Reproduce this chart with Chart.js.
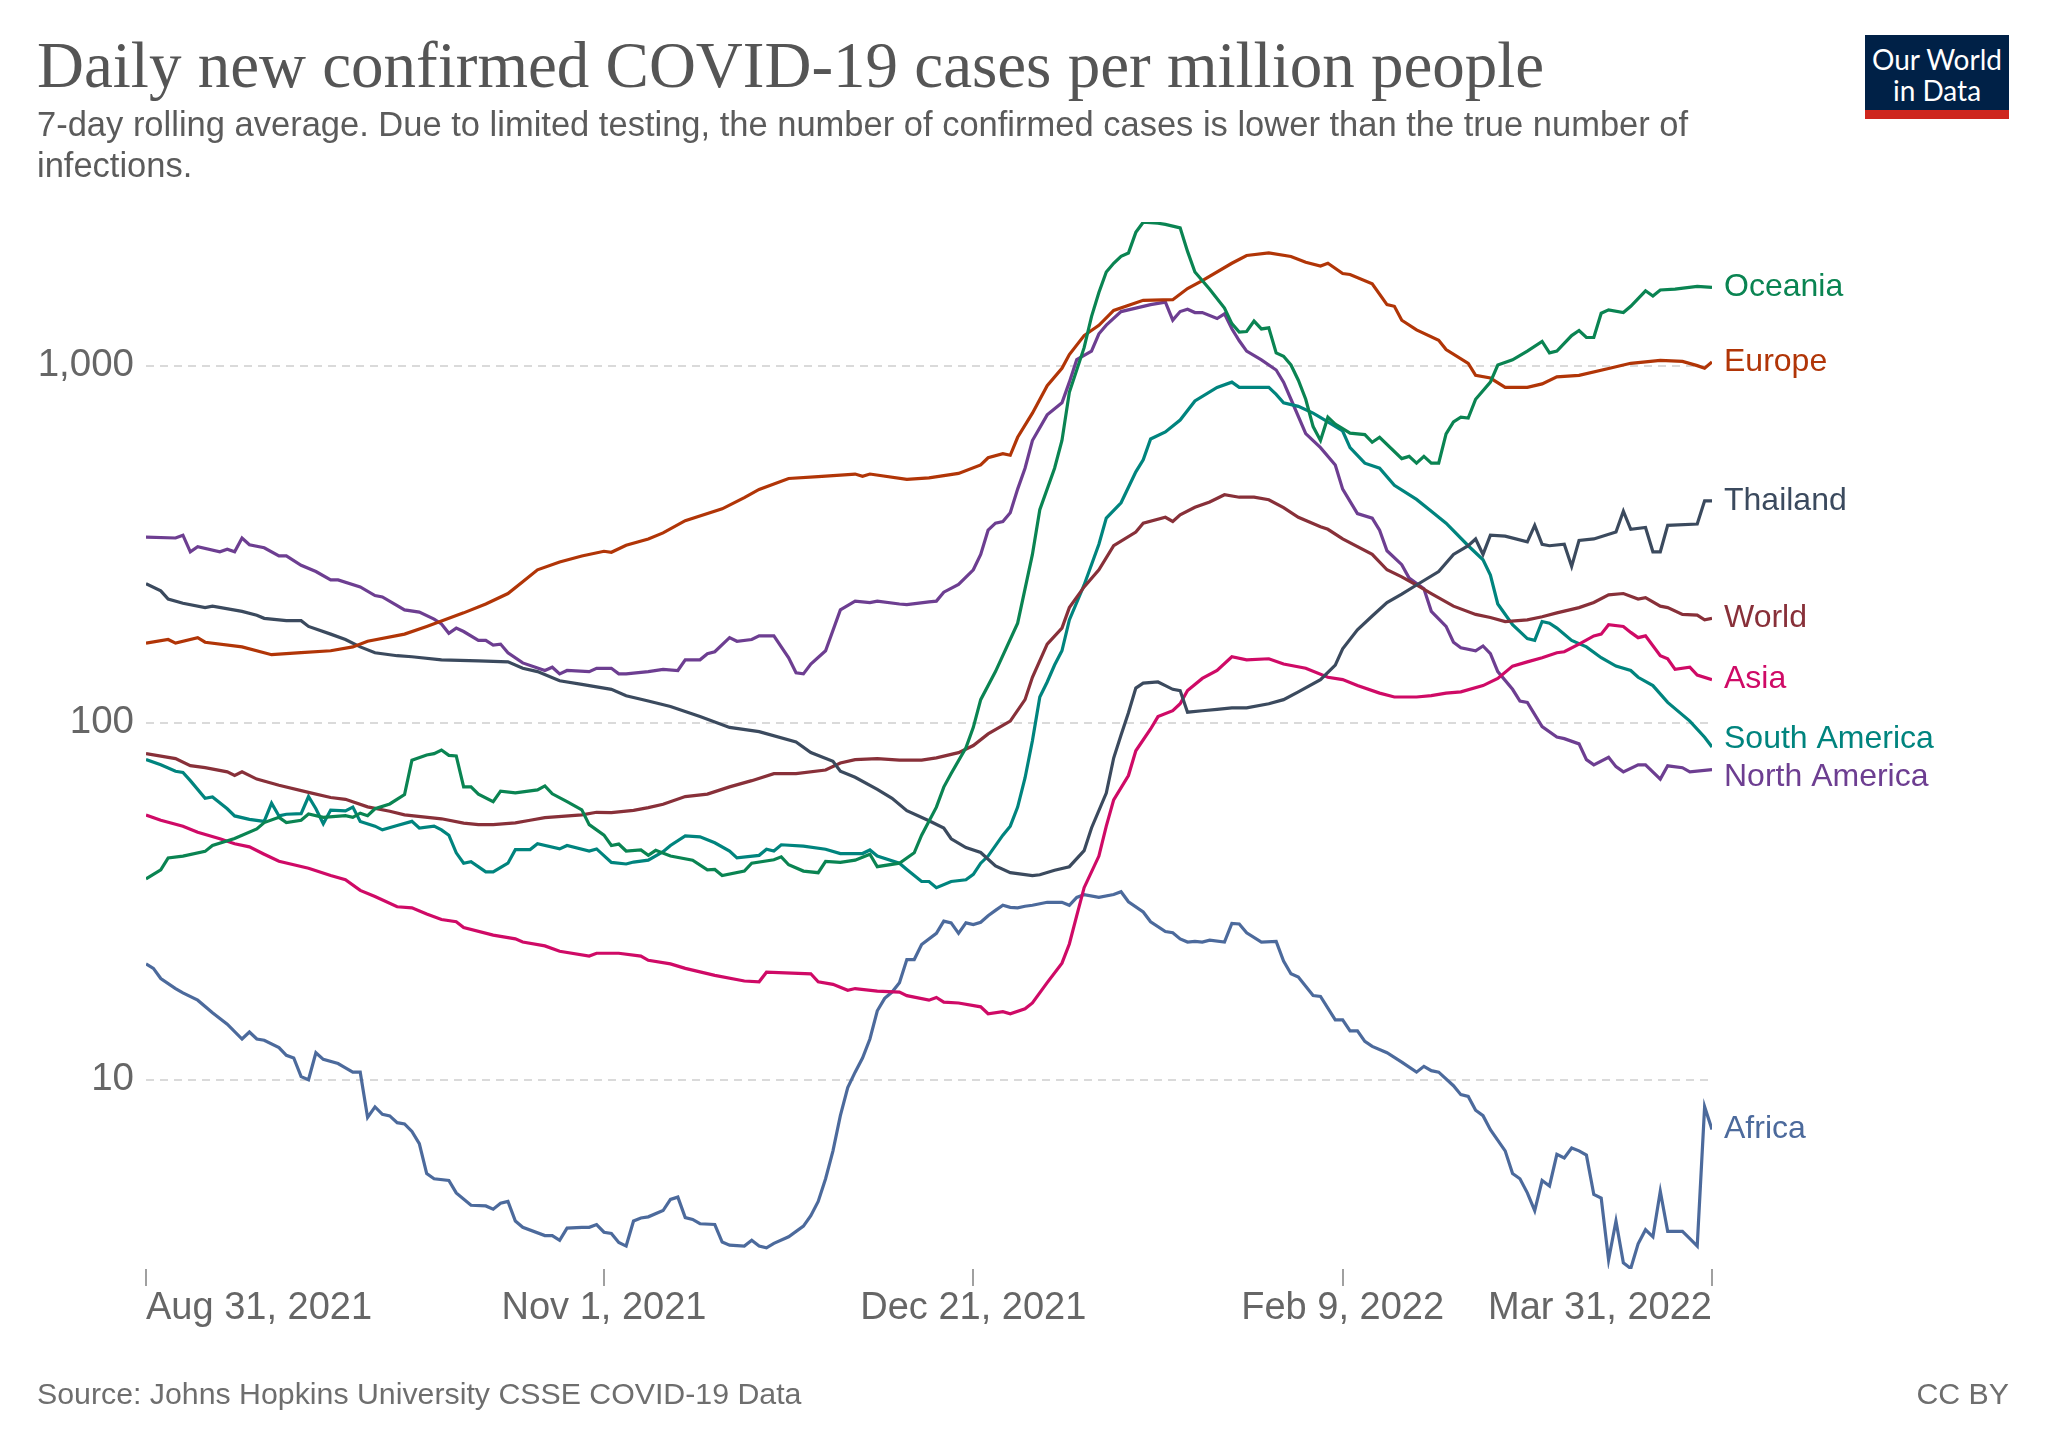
<!DOCTYPE html>
<html lang="en">
<head>
<meta charset="UTF-8">
<title>Daily new confirmed COVID-19 cases per million people</title>
<script src="https://cdn.jsdelivr.net/npm/chart.js"></script>
<style>
  body { margin: 0; background: #fff; width: 2048px; height: 1446px; position: relative; overflow: hidden; font-family: "Liberation Sans", Arial, sans-serif; }
  #title { position: absolute; left: 37px; top: 33px; font-family: "Liberation Serif", "Times New Roman", serif; font-size: 65px; line-height: 65px; color: #555; white-space: nowrap; }
  #subtitle { position: absolute; left: 37px; top: 104px; font-size: 34.5px; line-height: 40.5px; color: #5b5b5b; white-space: nowrap; }
  #logo { position: absolute; left: 1865px; top: 35px; width: 144px; height: 66px; background: #002147; border-bottom: 9px solid #ce261e; color: #fff; font-family: Lato, "Liberation Sans", sans-serif; font-size: 28px; line-height: 31px; text-align: center; padding-top: 9px; box-sizing: content-box; }
  #source { position: absolute; left: 37px; top: 1379px; font-size: 30.3px; line-height: 30px; color: #6e6e6e; }
  #licence { position: absolute; right: 39px; top: 1379px; font-size: 30.3px; line-height: 30px; color: #6e6e6e; }
  #myChart { position: absolute; left: 0; top: 0; }
</style>
</head>
<body>
<canvas id="myChart" width="2048" height="1446"></canvas>
<div id="title">Daily new confirmed COVID-19 cases per million people</div>
<div id="subtitle">7-day rolling average. Due to limited testing, the number of confirmed cases is lower than the true number of<br>infections.</div>
<div id="logo">Our World<br>in Data</div>
<div id="source">Source: Johns Hopkins University CSSE COVID-19 Data</div>
<div id="licence">CC BY</div>
<script>
// days counted from Aug 31, 2021 (day 0) to Mar 31, 2022 (day 212)
var tickDays = [0, 62, 112, 162, 212];
var tickLabels = ['Aug 31, 2021', 'Nov 1, 2021', 'Dec 21, 2021', 'Feb 9, 2022', 'Mar 31, 2022'];
var yTicks = [10, 100, 1000];
var yTickLabels = ['10', '100', '1,000'];

var oceaniaDays = [0,2,3,5,8,9,12,15,16,18,19,21,22,24,27,28,29,30,31,33,35,36,38,39,40,41,42,43,44,45,47,48,50,53,54,55,57,59,60,62,63,64,65,67,68,69,71,74,76,77,78,81,82,85,86,87,89,91,92,94,96,98,99,102,104,105,107,108,109,111,112,113,115,118,119,120,121,123,124,125,127,128,129,130,131,132,133,134,135,137,138,140,141,142,144,146,147,148,149,150,151,152,153,154,155,156,157,158,159,160,161,163,165,166,167,170,171,172,173,174,175,176,177,178,179,180,182,183,185,187,189,190,191,193,194,195,196,197,198,200,201,203,204,205,207,210,212];
var oceaniaVals = [36.5,38.7,41.8,42.3,43.6,45.3,47.4,50.4,52.5,54.3,52.5,53.3,55.5,54.3,54.9,54.3,55.8,54.9,57.4,59.2,62.9,78.5,81.2,81.9,83.8,81,80.7,66.1,66.1,63.1,60.1,64.3,63.6,64.8,66.5,63.2,60.1,57,51.8,48.4,45.3,45.7,43.7,44,42.5,43.9,42.3,41.2,38.7,38.8,37.3,38.4,40.4,41.3,42.1,40,38.4,38,40.9,40.6,41.2,42.8,39.5,40.4,43.2,48.4,58,66,72,85,97,116,139,190,237,296,395,516,617,842,1123,1372,1602,1829,1935,2024,2068,2362,2522,2505,2486,2431,2089,1829,1637,1449,1311,1241,1246,1333,1267,1276,1086,1062,1004,910,805,675,617,717,686,647,641,610,630,549,557,533,557,533,533,644,696,717,713,805,899,1004,1038,1098,1169,1086,1098,1214,1254,1199,1199,1402,1433,1408,1466,1620,1566,1629,1637,1667,1656];

var europeDays = [0,3,4,7,8,13,16,17,21,25,28,30,35,38,43,46,49,51,53,56,59,62,63,65,68,70,73,78,81,83,87,91,96,97,98,103,106,110,113,114,116,117,118,120,122,124,125,127,129,131,135,139,141,143,147,149,152,155,157,159,160,162,163,166,168,169,170,172,175,176,179,180,182,184,187,189,191,194,198,201,205,208,210,211,212];
var europeVals = [167,171,167,173,168,163,157,155,157,159,163,169,177,186,203,215,230,248,268,282,293,302,300,314,327,340,368,397,427,450,483,489,497,490,497,480,485,499,527,552,567,561,630,736,879,983,1074,1214,1297,1427,1524,1530,1644,1730,1935,2034,2068,2021,1947,1900,1935,1811,1800,1694,1482,1466,1340,1259,1178,1109,1015,939,923,869,869,889,930,939,982,1015,1035,1028,1000,983,1024];

var thailandDays = [0,2,3,5,8,9,13,15,16,19,21,22,25,27,29,31,34,36,40,45,49,51,53,56,59,63,65,68,71,75,79,83,88,90,93,94,96,99,101,103,106,108,109,111,113,115,117,120,121,123,125,127,128,130,131,132,133,134,135,137,138,139,140,141,143,145,147,149,152,154,156,159,161,162,164,166,168,170,172,175,177,179,180,181,182,184,187,188,189,190,192,193,194,196,199,200,201,203,204,205,206,210,211,212];
var thailandVals = [245,234,222,216,210,212,205,200,196,193,193,186,177,171,163,157,154,153,150,149,148,142,139,131,128,124,119,115,111,104,97,94.4,88.3,82.5,77.9,73.1,70.3,65,61.4,56.7,53.1,50.7,47.3,44.7,43.3,39.7,38,37.3,37.5,38.6,39.5,43.8,50.7,63.5,79.6,92.3,106.6,125,129,130,127,124,123,107,108,109,110,110,113,116,122,132,145,161,182,199,217,229,243,265,296,313,327,296,335,333,321,357,316,313,316,274,324,327,342,391,348,352,301,301,357,360,418,418];

var worldDays = [0,4,6,8,11,12,13,15,18,22,25,27,30,33,35,40,43,45,47,50,52,54,59,61,63,66,68,70,73,76,79,82,85,88,92,94,96,99,102,105,107,110,112,114,117,119,120,122,124,125,127,129,131,134,135,138,139,140,142,144,146,148,150,152,154,156,159,160,162,166,168,170,172,174,177,180,182,184,187,189,191,194,196,198,200,202,203,205,206,208,210,211,212];
var worldVals = [81.9,79.3,75.8,74.8,72.8,71.1,72.8,69.5,66.8,63.8,61.7,61,58.1,56.5,55.2,53.8,52.3,51.8,51.8,52.4,53.3,54.2,55.2,56.1,56,56.8,57.8,59.1,62.1,63.1,66.1,68.8,72,72,73.7,77.1,78.8,79.3,78.5,78.5,79.7,82.4,86.3,93,101,116,134,166,184,210,240,268,313,342,362,376,366,382,401,415,435,428,428,421,400,376,354,348,327,296,268,256,243,230,212,201,197,192,194,198,203,210,217,228,230,222,224,212,210,201,200,194,196];

var asiaDays = [0,2,5,7,10,12,14,16,18,22,25,27,29,31,34,36,38,40,42,43,47,50,51,54,56,60,61,64,67,68,71,73,77,81,83,84,90,91,93,95,96,99,102,103,106,107,108,110,113,114,116,117,119,120,122,124,125,126,127,129,130,131,133,134,136,137,139,140,141,143,145,147,149,152,154,157,160,162,164,167,169,172,174,176,178,181,183,185,187,189,191,192,194,196,197,198,200,201,202,203,205,206,207,209,210,212];
var asiaVals = [55.1,53.3,51.3,49.3,47.3,45.8,44.9,42.8,40.9,39.1,37.3,36.3,33.9,32.6,30.5,30.3,29.1,28.1,27.7,26.7,25.4,24.8,24.3,23.7,22.9,22.2,22.6,22.6,22.2,21.6,21.1,20.5,19.6,18.9,18.8,20,19.8,18.8,18.5,17.8,18,17.7,17.6,17.2,16.7,17,16.5,16.4,16,15.3,15.5,15.3,15.8,16.4,18.7,21.2,24,28.8,34.5,42.3,51.3,60.8,71.1,83.4,96,104,108,113,123,133,140,153,150,151,146,142,134,132,127,121,118,118,119,121,122,127,133,144,148,152,157,158,166,175,177,188,186,179,173,175,154,151,141,143,136,132];

var southAmericaDays = [0,2,4,5,6,8,9,11,12,14,16,17,18,19,21,22,23,24,25,27,28,29,31,32,34,36,37,39,40,41,42,43,44,46,47,49,50,52,53,56,57,60,61,63,65,66,68,70,71,73,75,77,79,80,83,84,85,86,89,92,94,97,98,99,102,103,105,106,107,109,111,112,113,114,116,117,118,119,120,121,122,123,124,125,127,129,130,132,134,135,136,138,140,142,145,147,148,152,153,154,156,158,160,162,163,165,167,169,172,174,176,179,181,182,183,185,187,188,189,190,191,193,195,197,199,201,202,204,206,209,211,212];
var southAmericaVals = [78.8,76.2,73.1,72.5,68.8,61.4,61.9,57.4,54.8,53.6,52.9,59.5,54.8,55.4,55.6,62.1,57.4,52.1,56.9,56.6,58,52.9,51.3,50.1,51.5,52.9,50.7,51.3,50.1,48.4,43.2,40.4,40.8,38.2,38.2,40.4,44.1,44.1,45.8,44.3,45.3,43.7,44.3,40.6,40.2,40.7,41.2,43.5,45.3,48.2,47.9,46.1,43.7,41.8,42.5,44.2,43.7,45.5,45.1,44.2,43,43,44,42.3,40.4,38.8,35.9,35.9,34.5,35.9,36.3,37.6,40.4,42.3,48.4,51.3,58,70,89,118,130,145,159,194,243,316,374,413,504,545,623,652,704,796,869,899,869,869,831,787,769,736,696,656,589,533,516,462,422,391,362,313,286,259,215,188,172,170,192,190,184,170,163,152,144,140,134,127,114,101,91,85.5];

var northAmericaDays = [0,4,5,6,7,10,11,12,13,14,16,18,19,21,23,25,26,29,31,32,35,37,39,40,41,42,43,45,46,47,48,49,51,54,55,56,57,60,61,63,64,65,68,70,72,73,75,76,77,79,80,82,83,85,87,88,89,90,92,94,96,98,99,102,103,106,107,108,110,112,113,114,115,116,117,118,119,120,122,124,125,126,128,129,130,132,134,136,138,139,140,141,142,143,145,146,147,148,149,151,153,154,155,157,159,161,162,164,166,167,168,170,171,173,174,176,177,178,180,181,182,183,185,186,187,189,191,192,194,195,196,198,199,200,202,203,205,206,208,209,212];
var northAmericaVals = [331,329,335,301,311,301,306,301,329,315,309,293,293,276,265,251,251,240,227,225,207,204,195,189,178,184,180,170,170,165,166,157,147,140,143,137,140,139,142,142,137,137,139,141,140,150,150,156,158,173,169,171,175,175,152,138,137,146,159,207,219,217,219,215,214,218,219,232,244,268,296,346,362,366,387,451,516,617,728,787,899,1039,1098,1228,1298,1417,1449,1482,1506,1341,1417,1439,1408,1408,1355,1396,1268,1174,1098,1038,972,899,805,645,589,527,451,385,374,346,303,277,254,237,205,186,168,162,159,164,156,139,124,115,114,97.5,91.2,90.2,87.2,78.8,76.2,80,75.3,72.8,76.2,76.2,69.5,75.7,74.8,72.8,73.9];

var africaDays = [0,1,2,4,5,7,9,11,13,14,15,16,18,19,20,21,22,23,24,26,27,28,29,30,31,32,33,34,35,36,37,38,39,41,42,44,46,47,48,49,50,51,54,55,56,57,59,60,61,62,63,64,65,66,67,68,70,71,72,73,74,75,77,78,79,81,82,83,84,85,87,89,90,91,92,93,94,95,96,97,98,99,100,101,102,103,104,105,107,108,109,110,111,112,113,114,115,116,117,118,119,120,122,124,125,126,127,129,131,132,133,135,136,138,139,140,141,142,143,144,146,147,148,149,151,153,154,155,156,158,159,161,162,163,164,165,166,168,170,172,173,174,175,177,178,179,180,181,182,184,185,186,187,188,189,190,191,192,193,194,195,196,197,198,199,200,201,202,203,204,205,206,208,209,210,211,212];
var africaVals = [21.1,20.5,19.2,18,17.5,16.7,15.4,14.3,13,13.6,13,12.9,12.3,11.7,11.5,10.2,10,11.9,11.4,11.1,10.8,10.5,10.5,7.84,8.39,8,7.92,7.58,7.52,7.16,6.62,5.46,5.28,5.22,4.82,4.45,4.43,4.34,4.51,4.56,4.02,3.86,3.66,3.66,3.55,3.84,3.86,3.86,3.93,3.74,3.71,3.5,3.42,4.02,4.1,4.13,4.3,4.62,4.69,4.11,4.06,3.95,3.93,3.51,3.44,3.42,3.55,3.42,3.38,3.48,3.63,3.89,4.16,4.56,5.28,6.32,7.93,9.5,10.5,11.5,13,15.6,16.9,17.6,18.7,21.7,21.7,23.9,25.7,27.8,27.5,25.7,27.5,27.2,27.6,28.8,29.8,30.8,30.4,30.3,30.6,30.8,31.4,31.4,30.8,32.4,33,32.4,33,33.6,31.5,29.5,27.7,26,25.8,24.8,24.3,24.4,24.3,24.6,24.3,27.4,27.3,25.8,24.3,24.4,21.5,19.8,19.4,17.2,17.1,14.7,14.7,13.7,13.7,12.8,12.4,11.9,11.2,10.5,10.9,10.6,10.5,9.62,9.08,8.98,8.21,7.93,7.24,6.32,5.46,5.28,4.82,4.3,5.22,5.04,6.18,6.04,6.44,6.32,6.15,4.77,4.66,3.13,4.02,3.07,2.96,3.47,3.8,3.63,4.87,3.76,3.76,3.59,3.42,8.4,7.25];

var seriesNames = ['Oceania', 'Europe', 'Thailand', 'World', 'Asia', 'South America', 'North America', 'Africa'];
var seriesColors = ['#0a8452', '#b13507', '#3b4a5e', '#883039', '#cf0a66', '#00847e', '#6d3e91', '#4c6a9c'];
var seriesDays = [oceaniaDays, europeDays, thailandDays, worldDays, asiaDays, southAmericaDays, northAmericaDays, africaDays];
var seriesVals = [oceaniaVals, europeVals, thailandVals, worldVals, asiaVals, southAmericaVals, northAmericaVals, africaVals];

var FONT = '"Liberation Sans", Arial, sans-serif';
Chart.defaults.font.family = FONT;

// labels at the end of each line, pushed apart when they collide
var endLabels = {
    id: 'endLabels',
    afterDatasetsDraw: function(chart) {
        var ctx = chart.ctx, area = chart.chartArea, y = chart.scales.y;
        var items = chart.data.datasets.map(function(ds) {
            var last = ds.data[ds.data.length - 1];
            return { text: ds.label, color: ds.borderColor, y: y.getPixelForValue(last.y) };
        });
        items.sort(function(a, b) { return a.y - b.y; });
        var gap = 38;
        for (var k = 0; k < 60; k++) {
            for (var i = 1; i < items.length; i++) {
                var d = items[i].y - items[i - 1].y;
                if (d < gap) {
                    var m = (gap - d) / 2;
                    items[i].y += m;
                    items[i - 1].y -= m;
                }
            }
        }
        ctx.save();
        ctx.font = '32px ' + FONT;
        ctx.textBaseline = 'middle';
        ctx.textAlign = 'left';
        items.forEach(function(it) {
            ctx.fillStyle = it.color;
            ctx.fillText(it.text, area.right + 12, it.y);
        });
        ctx.restore();
    }
};

var datasets = seriesNames.map(function(name, s) {
    return {
        label: name,
        data: seriesDays[s].map(function(d, i) { return { x: d, y: seriesVals[s][i] }; }),
        borderColor: seriesColors[s],
        backgroundColor: seriesColors[s],
        borderWidth: 3.2,
        pointRadius: 0,
        tension: 0,
        fill: false
    };
});

var ctx = document.getElementById('myChart').getContext('2d');
var myChart = new Chart(ctx, {
    type: 'line',
    data: { datasets: datasets },
    options: {
        responsive: false,
        animation: false,
        devicePixelRatio: 1,
        layout: { padding: { left: 0, right: 336, top: 222, bottom: 0 } },
        plugins: { legend: { display: false }, tooltip: { enabled: false } },
        scales: {
            x: {
                type: 'linear',
                min: 0,
                max: 212,
                afterBuildTicks: function(scale) { scale.ticks = tickDays.map(function(v) { return { value: v }; }); },
                afterFit: function(scale) { scale.height = 177; },
                grid: { drawOnChartArea: false, drawTicks: true, tickLength: 17, color: '#a0a0a0', lineWidth: 2 },
                border: { display: false },
                ticks: {
                    align: 'inner',
                    autoSkip: false,
                    maxRotation: 0,
                    padding: 0,
                    color: '#666',
                    font: { size: 38 },
                    callback: function(v) { return tickLabels[tickDays.indexOf(v)]; }
                }
            },
            y: {
                type: 'logarithmic',
                min: 2.95,
                max: 2525,
                afterBuildTicks: function(scale) { scale.ticks = yTicks.map(function(v) { return { value: v }; }); },
                afterFit: function(scale) { scale.width = 146; },
                grid: { color: '#dadada', lineWidth: 2, drawTicks: false },
                border: { display: false, dash: [8, 6] },
                ticks: {
                    padding: 12,
                    color: '#666',
                    font: { size: 38.5 },
                    callback: function(v) { return yTickLabels[yTicks.indexOf(v)]; }
                }
            }
        }
    },
    plugins: [endLabels]
});
</script>
</body>
</html>
